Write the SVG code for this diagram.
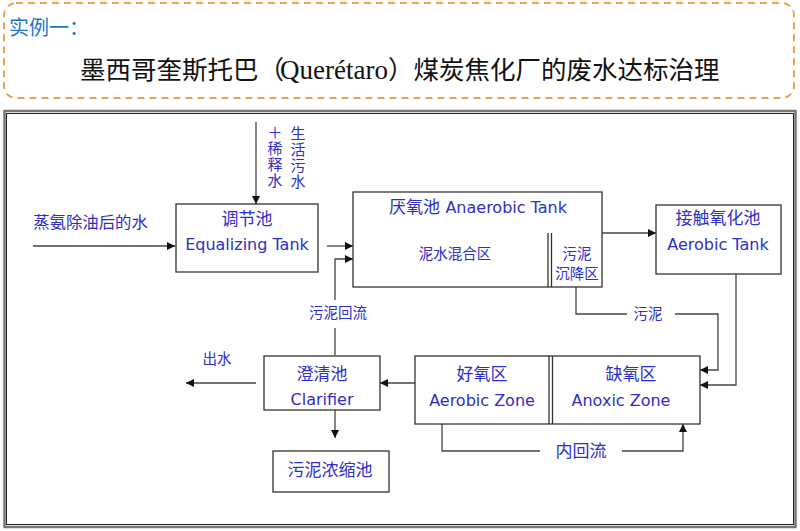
<svg xmlns="http://www.w3.org/2000/svg" width="800" height="531" viewBox="0 0 800 531">
<style>
.box{fill:#fff;stroke:#333;stroke-width:1.3}
.ln{fill:none;stroke:#444;stroke-width:1.3}
.arr{fill:none;stroke:#444;stroke-width:1.3;marker-end:url(#ah)}
.lb{font-family:"DejaVu Sans","Noto Sans CJK SC",sans-serif;fill:#2E2EC8;text-anchor:middle;dominant-baseline:central}
.vt{font-family:"Noto Sans CJK SC",sans-serif;fill:#2E2EC8;font-size:15px;writing-mode:vertical-rl;letter-spacing:1px}
.cj{font-size:17px}
.cs{font-size:14.5px}
.en{font-size:16px}
</style>
<defs>
<marker id="ah" viewBox="0 0 10 10" refX="10" refY="5" markerUnits="userSpaceOnUse" markerWidth="9" markerHeight="8" orient="auto">
<path d="M0,0 L10,5 L0,10 z" fill="#111"/>
</marker>
</defs>
<rect width="800" height="531" fill="#fff"/>
<g id="header">
<rect x="4" y="3" width="790" height="95" rx="12" ry="12" fill="none" stroke="#F2A055" stroke-width="2" stroke-dasharray="7 5"/>
<text x="9" y="35" font-family="Noto Sans CJK SC,sans-serif" font-size="20" fill="#1C78C8">实例一：</text>
<text y="79" font-size="25.5" fill="#111" font-family="Noto Sans CJK SC,sans-serif"><tspan x="80">墨西哥奎斯托巴（</tspan><tspan x="280" font-family="Liberation Serif,serif" font-size="27">Querétaro</tspan><tspan x="388">）煤炭焦化厂的废水达标治理</tspan></text>
</g>
<g id="frame">
<rect x="4.5" y="111" width="791" height="416" fill="#fff" stroke="#777" stroke-width="2.5"/>
<rect x="6.5" y="113.5" width="787" height="411" fill="none" stroke="#222" stroke-width="1"/>
</g>
<g id="connectors">
<line class="arr" x1="33" y1="246" x2="175" y2="246"/>
<line class="arr" x1="256" y1="122" x2="256" y2="204"/>
<line class="arr" x1="327" y1="246" x2="353" y2="246"/>
<polyline class="arr" points="335,300 335,259 353,259"/>
<line class="ln" x1="335" y1="328" x2="335" y2="355"/>
<line class="arr" x1="513" y1="233" x2="540" y2="233"/>
<line class="arr" x1="602" y1="233" x2="656" y2="233"/>
<polyline class="ln" points="576,287 576,314 627,314"/>
<polyline class="arr" points="675,314 718,314 718,370 700,370"/>
<polyline class="arr" points="736,274 736,385 700,385"/>
<line class="arr" x1="559" y1="369" x2="532" y2="369"/>
<line class="arr" x1="559" y1="412" x2="532" y2="412"/>
<line class="arr" x1="415" y1="383" x2="380" y2="383"/>
<line class="arr" x1="256" y1="383" x2="186" y2="383"/>
<line class="arr" x1="335" y1="410" x2="335" y2="438"/>
<polyline class="ln" points="442,423 442,451 540,451"/>
<polyline class="arr" points="622,451 683,451 683,424"/>
<text class="lb" font-size="16.4" x="90.5" y="222">蒸氨除油后的水</text>
<text class="vt" x="275" y="125">＋稀释水</text>
<text class="vt" x="298" y="126">生活污水</text>
<text class="lb cs" x="338" y="313">污泥回流</text>
<text class="lb cs" x="648" y="314">污泥</text>
<text class="lb cs" x="217" y="359">出水</text>
<text class="lb cj" x="581" y="451">内回流</text>
</g>
<g id="equalizing-tank">
<rect class="box" x="176" y="204" width="142" height="68"/>
<text class="lb cj" x="247" y="219">调节池</text>
<text class="lb en" x="247" y="244">Equalizing Tank</text>
</g>
<g id="anaerobic-tank">
<rect class="box" x="353" y="192" width="249" height="95"/>
<text class="lb" x="478" y="207"><tspan class="cj">厌氧池 </tspan><tspan class="en">Anaerobic Tank</tspan></text>
<line x1="548" y1="233" x2="548" y2="287" stroke="#333" stroke-width="1.3"/>
<line x1="551.5" y1="233" x2="551.5" y2="287" stroke="#333" stroke-width="1.3"/>
<text class="lb cs" x="455" y="254">泥水混合区</text>
<text class="lb cs" x="577" y="254">污泥</text>
<text class="lb cs" x="577" y="274">沉降区</text>
</g>
<g id="aerobic-tank">
<rect class="box" x="656" y="205" width="125" height="69"/>
<text class="lb cj" x="718" y="218">接触氧化池</text>
<text class="lb en" x="718" y="244">Aerobic Tank</text>
</g>
<g id="aerobic-anoxic-zone">
<rect class="box" x="415" y="356" width="285" height="68"/>
<line x1="549" y1="356" x2="549" y2="424" stroke="#333" stroke-width="1.3"/>
<line x1="552.5" y1="356" x2="552.5" y2="424" stroke="#333" stroke-width="1.3"/>
<text class="lb cj" x="482" y="374">好氧区</text>
<text class="lb en" x="482" y="400">Aerobic Zone</text>
<text class="lb cj" x="631" y="374">缺氧区</text>
<text class="lb en" x="621" y="400">Anoxic Zone</text>
</g>
<g id="clarifier">
<rect class="box" x="264" y="356" width="116" height="54"/>
<text class="lb cj" x="322" y="374">澄清池</text>
<text class="lb en" x="322" y="399">Clarifier</text>
</g>
<g id="sludge-thickener">
<rect class="box" x="273" y="451" width="116" height="41"/>
<text class="lb cj" x="330" y="470">污泥浓缩池</text>
</g>
</svg>
